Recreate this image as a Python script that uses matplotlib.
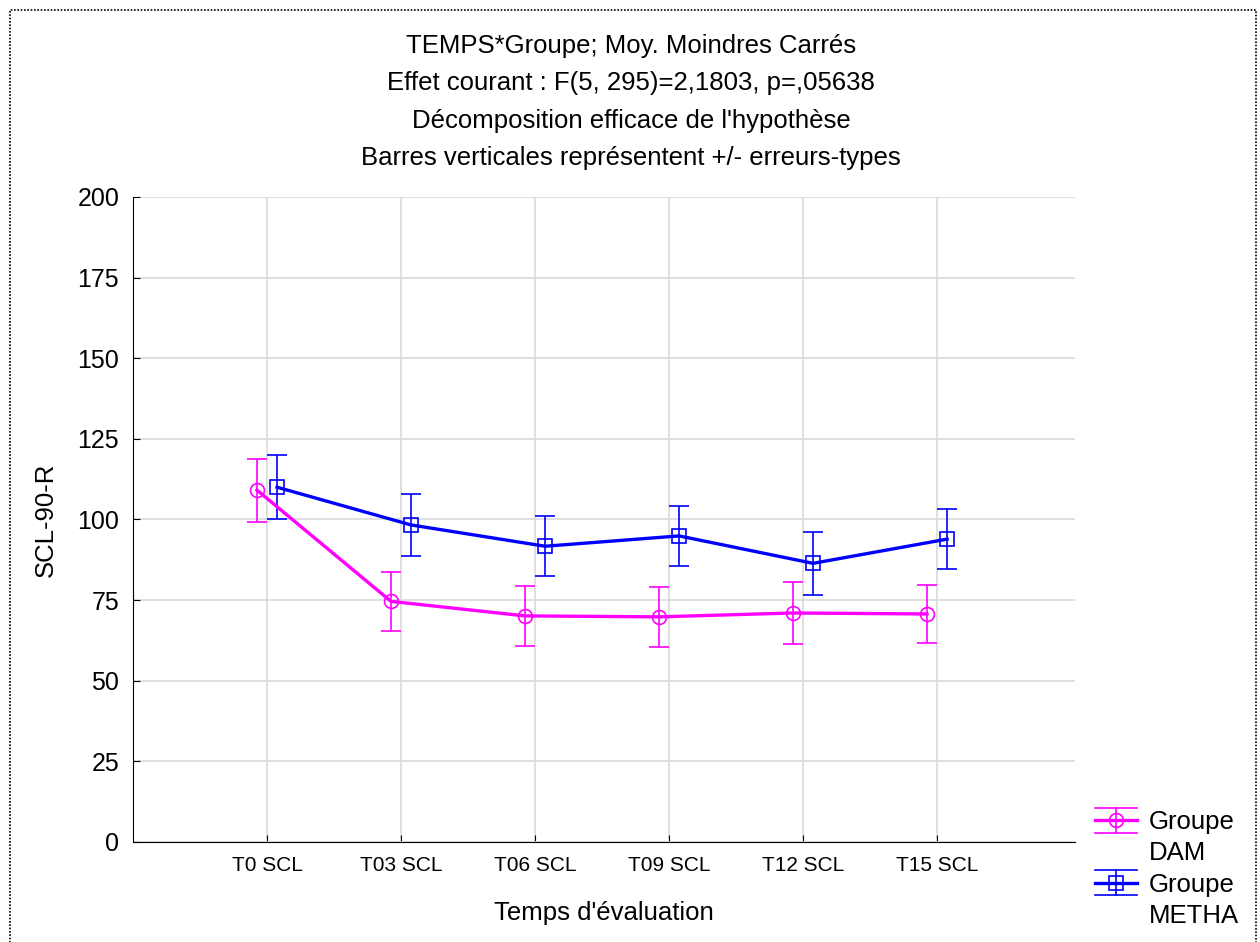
import numpy as np
import matplotlib.pyplot as plt
from matplotlib.patches import Rectangle
from matplotlib.lines import Line2D
from matplotlib.legend_handler import HandlerBase

plt.rcParams["font.family"] = ["Liberation Sans", "DejaVu Sans"]

# Data
temps = ["T0 SCL", "T03 SCL", "T06 SCL", "T09 SCL", "T12 SCL", "T15 SCL"]
dam_moy = [109.1, 74.6, 70.1, 69.8, 71.0, 70.7]
dam_se = [9.8, 9.2, 9.2, 9.3, 9.6, 9.1]
metha_moy = [110.0, 98.3, 91.7, 94.9, 86.4, 93.9]
metha_se = [9.9, 9.6, 9.3, 9.4, 9.7, 9.3]

titre = ["TEMPS*Groupe; Moy. Moindres Carrés",
         "Effet courant : F(5, 295)=2,1803, p=,05638",
         "Décomposition efficace de l'hypothèse",
         "Barres verticales représentent +/- erreurs-types"]

ROSE = "#ff00ff"
BLEU = "#0000ff"


class HandlerGroupe(HandlerBase):
    """errorbar-like legend key: wide caps, vertical bar, marker on the line"""

    def create_artists(self, legend, orig_handle, xdescent, ydescent,
                       width, height, fontsize, trans):
        color, marker, ms = orig_handle
        if color is None:
            vide = Line2D([], [], ls="none")
            vide.set_transform(trans)
            return [vide]
        y = height / 2 - ydescent
        x0, x1 = -xdescent, width - xdescent
        xm = (x0 + x1) / 2
        h = 9
        arts = [
            Line2D([x0, x1], [y, y], color=color, lw=2.4),
            Line2D([x0, x1], [y + h, y + h], color=color, lw=1.2),
            Line2D([x0, x1], [y - h, y - h], color=color, lw=1.2),
            Line2D([xm, xm], [y - h, y + h], color=color, lw=1.2),
            Line2D([xm], [y], marker=marker, ms=ms, mfc="none",
                   mec=color, mew=1.2, ls="none"),
        ]
        for a in arts:
            a.set_transform(trans)
        return arts


fig = plt.figure(figsize=(12.6, 9.42), dpi=100)
ax = fig.add_axes([0.1056, 0.1062, 0.7476, 0.6847])

x = np.arange(len(temps))
dx = 0.075

ax.errorbar(x - dx, dam_moy, yerr=dam_se, color=ROSE, lw=2.4,
            marker="o", ms=10, mfc="none", mew=1.2,
            elinewidth=1.2, capsize=7.5, capthick=1.2, zorder=3)
ax.errorbar(x + dx, metha_moy, yerr=metha_se, color=BLEU, lw=2.4,
            marker="s", ms=9.5, mfc="none", mew=1.2,
            elinewidth=1.2, capsize=7.5, capthick=1.2, zorder=3)

ax.set_xlim(-1, 6.03)
ax.set_ylim(0, 200)
ax.set_xticks(x)
ax.set_xticklabels(temps, fontsize=15)
ax.set_yticks(np.arange(0, 201, 25))
ax.tick_params(axis="y", labelsize=18, direction="in", length=5, pad=10)
ax.tick_params(axis="x", direction="in", length=5, pad=10)
ax.grid(True, color="#d9d9d9", lw=1.2)
ax.set_axisbelow(True)
for s in ["top", "right"]:
    ax.spines[s].set_visible(False)

ax.set_xlabel("Temps d'évaluation", fontsize=18.5, labelpad=19)
ax.set_ylabel("SCL-90-R", fontsize=18.5, labelpad=14)

# title, one line at a time
for i, ligne in enumerate(titre):
    fig.text(0.501, 0.9513 - i * 0.0397, ligne, ha="center", va="center",
             fontsize=18.5)

# legend: "Groupe" on the key line, the group name below it
cles = [(ROSE, "o", 10), (None, None, None), (BLEU, "s", 9.5), (None, None, None)]
noms = ["Groupe", "DAM", "Groupe", "METHA"]
fig.legend(cles, noms, handler_map={tuple: HandlerGroupe()},
           loc="upper left", bbox_to_anchor=(0.869, 0.140), frameon=False,
           fontsize=18.5, handlelength=1.65, handletextpad=0.45,
           labelspacing=0.28, borderpad=0, borderaxespad=0)

# dotted frame around the figure
fig.patches.append(Rectangle((0.008, -0.05), 0.989, 1.039,
                             transform=fig.transFigure, fill=False,
                             ls=(0, (1, 1)), lw=1.2, color="black"))

fig.savefig("out.png", dpi=100)
